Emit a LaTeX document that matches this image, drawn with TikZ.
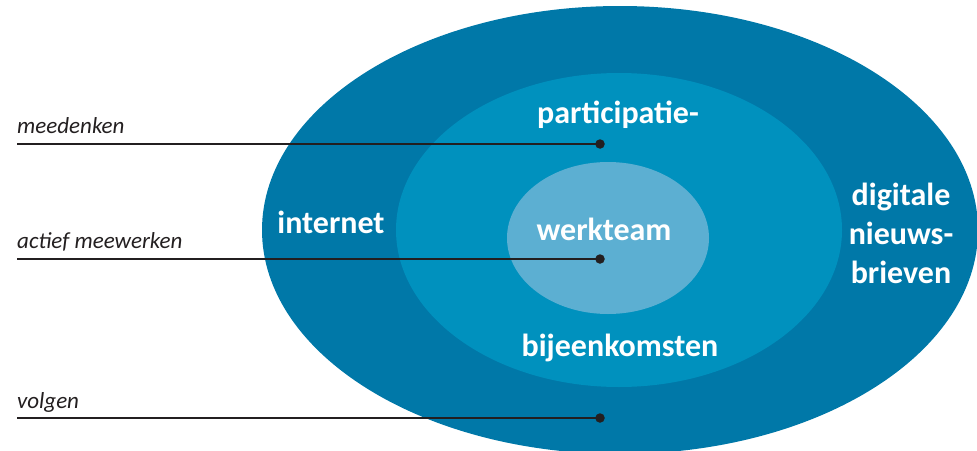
\documentclass[tikz,border=0pt]{standalone}
\usepackage{fontspec}
\setmainfont{Carlito}
\definecolor{outerc}{RGB}{0,120,168}
\definecolor{midc}{RGB}{0,145,190}
\definecolor{innerc}{RGB}{92,175,210}
\definecolor{ink}{RGB}{35,31,32}
\begin{document}
\begin{tikzpicture}[x=1pt,y=-1pt,
  ringlabel/.style={text=white,font=\bfseries\fontsize{32}{39}\selectfont,inner sep=0pt,align=center},
  sidelabel/.style={text=ink,font=\itshape\fontsize{23}{26}\selectfont,inner sep=0pt,anchor=base west},
  leader/.style={draw=ink,line width=2.2pt},
  dotnode/.style={circle,fill=ink,inner sep=0pt,minimum size=9.5pt}]
\useasboundingbox (0,0) rectangle (977,450);
\begin{scope}
\clip (0,0) rectangle (977,450);
\fill[outerc] (620,230) ellipse [x radius=358, y radius=224];
\fill[midc] (619,230) ellipse [x radius=223, y radius=157];
\fill[innerc] (608,238) ellipse [x radius=101, y radius=76];
\end{scope}
% ring labels
\node[ringlabel] (part) at (618,115) {participatie-};
\node[ringlabel] (werk) at (604,229) {werkteam};
\node[ringlabel] (bij) at (620,348) {bijeenkomsten};
\node[ringlabel] (inet) at (331,222) {internet};
\node[ringlabel] (dig) at (901,233) {digitale\\nieuws-\\brieven};
% side labels
\node[sidelabel] (mee) at (17,133) {meedenken};
\node[sidelabel] (act) at (17,248) {actief meewerken};
\node[sidelabel] (vol) at (17,408) {volgen};
% dots
\node[dotnode] (d1) at (600,144) {};
\node[dotnode] (d2) at (600,259) {};
\node[dotnode] (d3) at (600,418) {};
\coordinate (s1) at (17,144);
\coordinate (s2) at (17,259);
\coordinate (s3) at (17,418);
\draw[leader] (s1) -- (d1.center);
\draw[leader] (s2) -- (d2.center);
\draw[leader] (s3) -- (d3.center);
\end{tikzpicture}
\end{document}
